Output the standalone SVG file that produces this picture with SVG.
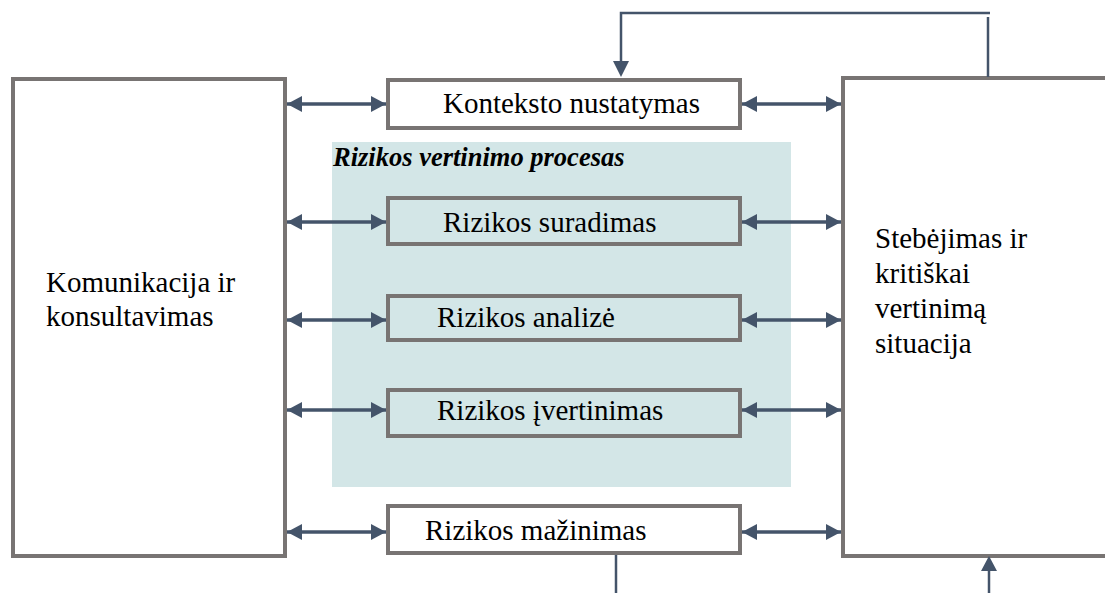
<svg xmlns="http://www.w3.org/2000/svg" width="1105" height="593" viewBox="0 0 1105 593">
  <style>
    .box { fill: #ffffff; stroke: #787473; stroke-width: 4; }
    .inner { fill: #d3e6e7; stroke: #787473; stroke-width: 4; }
    .lbl { font-family: "Liberation Serif", "Times New Roman", serif; font-size: 29px; fill: #000000; }
    .title { font-family: "Liberation Serif", "Times New Roman", serif; font-size: 26.5px; font-weight: bold; font-style: italic; fill: #000000; }
    .dbl { stroke: #44546a; stroke-width: 3.3; fill: none; marker-start: url(#headStart); marker-end: url(#headEnd); }
    .fb { stroke: #44546a; stroke-width: 2.5; fill: none; }
  </style>
  <defs>
    <marker id="headEnd" markerUnits="userSpaceOnUse" markerWidth="16" markerHeight="16" refX="15" refY="8" orient="auto">
      <path d="M0,0 L15,8 L0,16 Z" fill="#44546a"/>
    </marker>
    <marker id="headStart" markerUnits="userSpaceOnUse" markerWidth="16" markerHeight="16" refX="0" refY="8" orient="auto">
      <path d="M15,0 L0,8 L15,16 Z" fill="#44546a"/>
    </marker>
  </defs>

  <!-- risk assessment process panel -->
  <g id="process-panel">
    <rect x="332" y="142" width="459" height="345" fill="#d3e6e7"/>
    <text class="title" x="333" y="166">Rizikos vertinimo procesas</text>
  </g>

  <g id="communication">
    <rect class="box" x="13" y="79" width="272" height="477"/>
    <text class="lbl" x="46" y="292">Komunikacija ir</text>
    <text class="lbl" x="46" y="326">konsultavimas</text>
  </g>

  <g id="monitoring">
    <rect class="box" x="843" y="78" width="280" height="478"/>
    <text class="lbl" x="875" y="248">Stebėjimas ir</text>
    <text class="lbl" x="875" y="283">kritiškai</text>
    <text class="lbl" x="875" y="318">vertinimą</text>
    <text class="lbl" x="875" y="353">situacija</text>
  </g>

  <g id="context">
    <rect class="box" x="388" y="80" width="352" height="48"/>
    <text class="lbl" x="443" y="113">Konteksto nustatymas</text>
  </g>

  <g id="identification">
    <rect class="inner" x="388" y="198" width="352" height="46"/>
    <text class="lbl" x="443" y="232">Rizikos suradimas</text>
  </g>

  <g id="analysis">
    <rect class="inner" x="388" y="296" width="352" height="44"/>
    <text class="lbl" x="437" y="327">Rizikos analizė</text>
  </g>

  <g id="evaluation">
    <rect class="inner" x="388" y="390" width="352" height="46"/>
    <text class="lbl" x="437" y="420">Rizikos įvertinimas</text>
  </g>

  <g id="treatment">
    <rect class="box" x="388" y="506" width="352" height="47"/>
    <text class="lbl" x="425" y="540">Rizikos mažinimas</text>
  </g>

  <g id="connectors">
    <!-- communication <-> steps -->
    <line class="dbl" x1="287" y1="104" x2="386" y2="104"/>
    <line class="dbl" x1="287" y1="222" x2="386" y2="222"/>
    <line class="dbl" x1="287" y1="320" x2="386" y2="320"/>
    <line class="dbl" x1="287" y1="410" x2="386" y2="410"/>
    <line class="dbl" x1="287" y1="532" x2="386" y2="532"/>
    <!-- steps <-> monitoring -->
    <line class="dbl" x1="742" y1="104" x2="841" y2="104"/>
    <line class="dbl" x1="742" y1="222" x2="841" y2="222"/>
    <line class="dbl" x1="742" y1="320" x2="841" y2="320"/>
    <line class="dbl" x1="742" y1="410" x2="841" y2="410"/>
    <line class="dbl" x1="742" y1="532" x2="841" y2="532"/>
    <!-- feedback loop to context -->
    <line class="fb" x1="988" y1="17" x2="988" y2="77"/>
    <polyline class="fb" points="990,13 621,13 621,62"/>
    <path d="M613,61 L629,61 L621,77 Z" fill="#44546a"/>
    <!-- treatment to monitoring -->
    <line class="fb" x1="616" y1="555" x2="616" y2="593"/>
    <line class="fb" x1="989" y1="570" x2="989" y2="593"/>
    <path d="M981,571 L997,571 L989,556 Z" fill="#44546a"/>
  </g>
</svg>
